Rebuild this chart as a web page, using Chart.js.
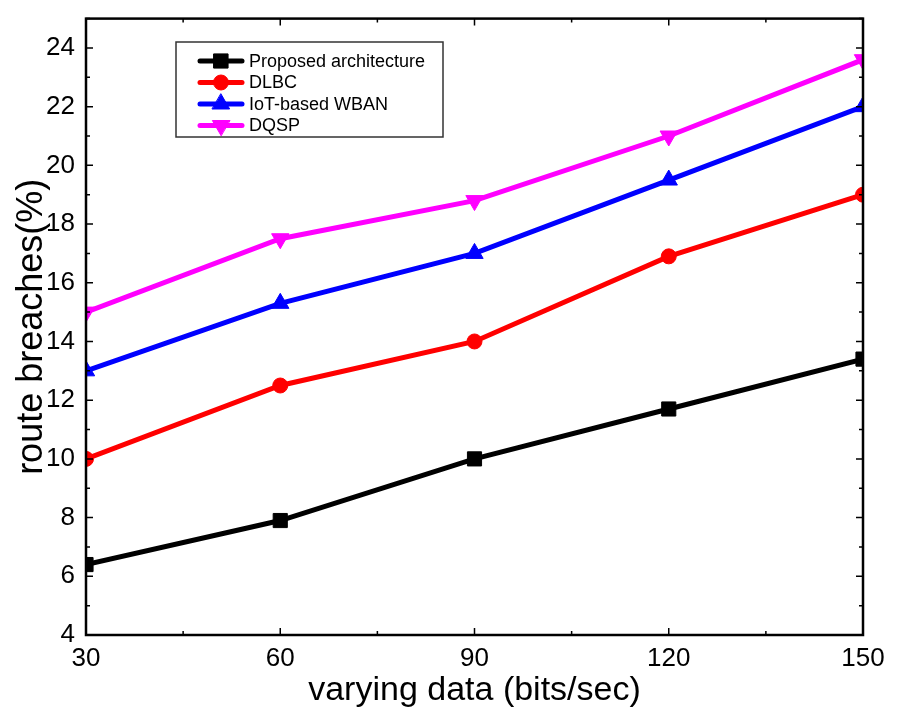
<!DOCTYPE html>
<html>
<head>
<meta charset="utf-8">
<script src="https://cdn.jsdelivr.net/npm/chart.js@4.4.0/dist/chart.umd.min.js"></script>
<style>
  body { margin: 0; background: #fff; }
  canvas { display: block; }
</style>
</head>
<body>
<canvas id="chart" width="904" height="711"></canvas>
<script>
var xValues = [30, 60, 90, 120, 150];
var proposed = [6.4, 7.9, 10, 11.7, 13.4];
var dlbc = [10, 12.5, 14, 16.9, 19];
var iotWban = [13, 15.3, 17, 19.5, 22];
var dqsp = [15, 17.5, 18.8, 21, 23.6];
var seriesNames = ['Proposed architecture', 'DLBC', 'IoT-based WBAN', 'DQSP'];

var FONT = '"Liberation Sans", Arial, sans-serif';

function pts(ys) {
    return xValues.map(function (x, i) { return { x: x, y: ys[i] }; });
}

function makeSet(label, ys, color, style, rot) {
    return {
        label: label,
        data: pts(ys),
        borderColor: color,
        backgroundColor: color,
        borderWidth: 5,
        pointStyle: style,
        pointRotation: rot || 0,
        pointRadius: style === 'circle' ? 7.5 : 10,
        pointBorderWidth: 1,
        tension: 0,
        clip: 0
    };
}

// frame, inward ticks and boxed legend
var framePlugin = {
    id: 'frame',
    afterDraw: function (chart) {
        var c = chart.ctx, a = chart.chartArea;
        var xs = chart.scales.x, ys = chart.scales.y;
        c.save();
        c.strokeStyle = '#000';
        c.lineWidth = 2.5;
        c.strokeRect(a.left, a.top, a.right - a.left, a.bottom - a.top);

        c.lineWidth = 1.5;
        c.beginPath();
        for (var v = xs.min; v <= xs.max; v += 15) {
            var px = xs.getPixelForValue(v);
            var len = (v % 30 === 0) ? 7 : 4;
            c.moveTo(px, a.bottom); c.lineTo(px, a.bottom - len);
            c.moveTo(px, a.top); c.lineTo(px, a.top + len);
        }
        for (var w = ys.min; w <= ys.max; w += 1) {
            var py = ys.getPixelForValue(w);
            var l2 = (w % 2 === 0) ? 7 : 4;
            c.moveTo(a.left, py); c.lineTo(a.left + l2, py);
            c.moveTo(a.right, py); c.lineTo(a.right - l2, py);
        }
        c.stroke();

        // legend
        var lx = 176, ly = 42, lw = 267, lh = 95;
        c.fillStyle = '#fff';
        c.fillRect(lx, ly, lw, lh);
        c.strokeStyle = '#333';
        c.lineWidth = 1.5;
        c.strokeRect(lx, ly, lw, lh);
        c.font = '18px ' + FONT;
        c.textBaseline = 'middle';
        chart.data.datasets.forEach(function (ds, i) {
            var y = 61 + i * 21.5;
            c.strokeStyle = ds.borderColor;
            c.lineWidth = 5;
            c.lineCap = 'round';
            c.beginPath();
            c.moveTo(200, y); c.lineTo(242, y);
            c.stroke();
            c.fillStyle = ds.backgroundColor;
            c.lineWidth = 1;
            Chart.helpers.drawPoint(c, {
                pointStyle: ds.pointStyle,
                rotation: ds.pointRotation,
                radius: ds.pointRadius,
                borderWidth: 1
            }, 221, y);
            c.fillStyle = '#000';
            c.fillText(ds.label, 249, y + 1);
        });
        c.restore();
    }
};

var chart = new Chart(document.getElementById('chart').getContext('2d'), {
    type: 'line',
    data: {
        datasets: [
            makeSet(seriesNames[0], proposed, '#000000', 'rect'),
            makeSet(seriesNames[1], dlbc, '#ff0000', 'circle'),
            makeSet(seriesNames[2], iotWban, '#0000ff', 'triangle'),
            makeSet(seriesNames[3], dqsp, '#ff00ff', 'triangle', 180)
        ]
    },
    options: {
        responsive: false,
        animation: false,
        layout: { padding: { left: 0, top: 14, right: 41, bottom: 0 } },
        plugins: { legend: { display: false }, tooltip: { enabled: false } },
        scales: {
            x: {
                type: 'linear',
                min: 30,
                max: 150,
                grid: { display: false },
                border: { display: false },
                ticks: {
                    stepSize: 30,
                    color: '#000',
                    padding: 0,
                    font: { family: FONT, size: 26 }
                },
                title: {
                    display: true,
                    text: 'varying data (bits/sec)',
                    color: '#000',
                    padding: { top: 0, bottom: 0 },
                    font: { family: FONT, size: 34 }
                },
                afterFit: function (s) { s.height = 76; }
            },
            y: {
                min: 4,
                max: 25,
                grid: { display: false },
                border: { display: false },
                ticks: {
                    stepSize: 2,
                    includeBounds: false,
                    color: '#000',
                    padding: 3,
                    font: { family: FONT, size: 26 }
                },
                title: {
                    display: true,
                    text: 'route breaches(%)',
                    color: '#000',
                    padding: { top: 10, bottom: 0 },
                    font: { family: FONT, size: 36 }
                },
                afterFit: function (s) { s.width = 86; }
            }
        }
    },
    plugins: [framePlugin]
});
</script>
</body>
</html>
